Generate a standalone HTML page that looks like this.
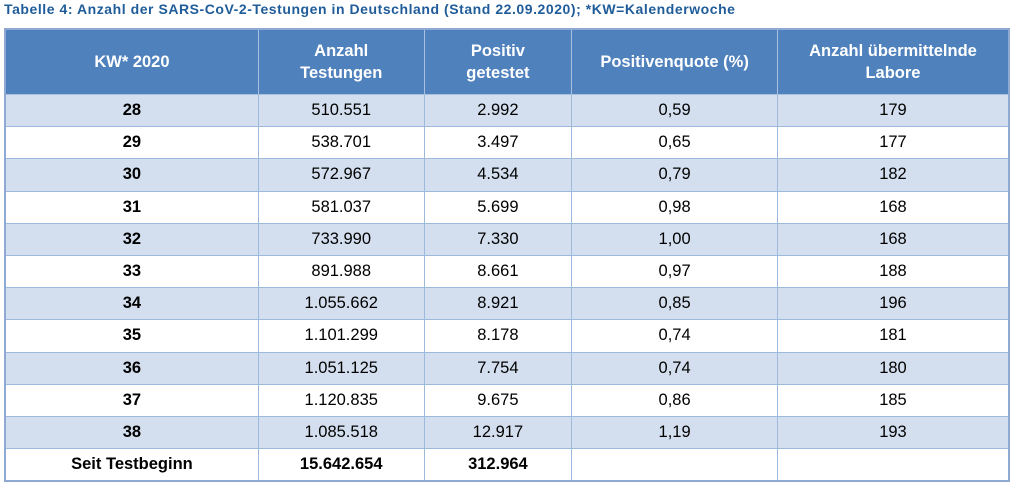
<!DOCTYPE html>
<html><head><meta charset="utf-8"><style>
html,body{margin:0;padding:0;background:#fff;width:1014px;height:486px;overflow:hidden}
.t{position:absolute;left:4px;top:1px;font:bold 14px "Liberation Sans",sans-serif;color:#1f5c99;letter-spacing:0.55px;white-space:nowrap}
table{position:absolute;left:4px;top:28px;border-collapse:collapse;width:1006px;font-family:"Liberation Sans",sans-serif;font-size:16.5px;color:#000}
td,th{border:1px solid #9dbadc;text-align:center;padding:0;height:31.2px}
th{background:#4f81bd;color:#fff;font-weight:bold;font-size:16.5px;height:64px;line-height:22px;border-color:#a9c0de}
tr.o td{background:#d3dfee}
td.b{font-weight:bold}
table{border:2px solid #8eaad4}
</style></head><body>
<div class="t">Tabelle 4: Anzahl der SARS-CoV-2-Testungen in Deutschland (Stand 22.09.2020); *KW=Kalenderwoche</div>
<table>
<colgroup><col style="width:254px"><col style="width:166px"><col style="width:148px"><col style="width:206px"><col style="width:232px"></colgroup>
<tr><th>KW* 2020</th><th>Anzahl<br>Testungen</th><th>Positiv<br>getestet</th><th>Positivenquote (%)</th><th>Anzahl übermittelnde<br>Labore</th></tr>
<tr class="o"><td class="b">28</td><td>510.551</td><td>2.992</td><td>0,59</td><td>179</td></tr>
<tr><td class="b">29</td><td>538.701</td><td>3.497</td><td>0,65</td><td>177</td></tr>
<tr class="o"><td class="b">30</td><td>572.967</td><td>4.534</td><td>0,79</td><td>182</td></tr>
<tr><td class="b">31</td><td>581.037</td><td>5.699</td><td>0,98</td><td>168</td></tr>
<tr class="o"><td class="b">32</td><td>733.990</td><td>7.330</td><td>1,00</td><td>168</td></tr>
<tr><td class="b">33</td><td>891.988</td><td>8.661</td><td>0,97</td><td>188</td></tr>
<tr class="o"><td class="b">34</td><td>1.055.662</td><td>8.921</td><td>0,85</td><td>196</td></tr>
<tr><td class="b">35</td><td>1.101.299</td><td>8.178</td><td>0,74</td><td>181</td></tr>
<tr class="o"><td class="b">36</td><td>1.051.125</td><td>7.754</td><td>0,74</td><td>180</td></tr>
<tr><td class="b">37</td><td>1.120.835</td><td>9.675</td><td>0,86</td><td>185</td></tr>
<tr class="o"><td class="b">38</td><td>1.085.518</td><td>12.917</td><td>1,19</td><td>193</td></tr>
<tr><td class="b">Seit Testbeginn</td><td class="b">15.642.654</td><td class="b">312.964</td><td></td><td></td></tr>
</table>
</body></html>
